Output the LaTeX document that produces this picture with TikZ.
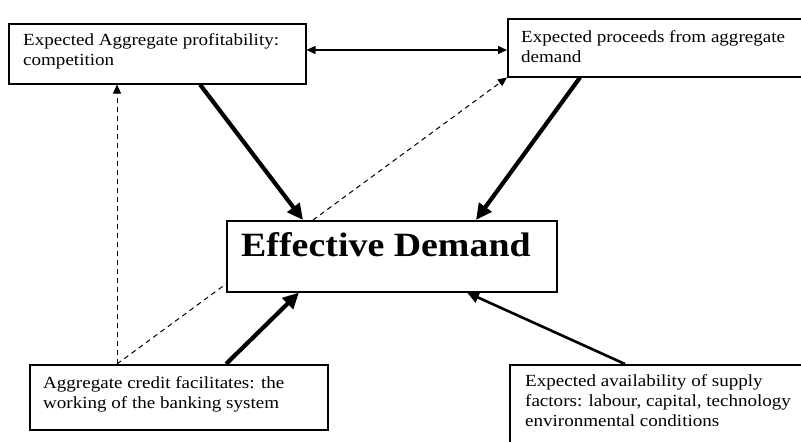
\documentclass[tikz,border=0pt]{standalone}
\usepackage{fontspec}
\setmainfont{Liberation Serif}
\newfontfamily\boxfont[FakeStretch=1.12]{Liberation Serif}
\newfontfamily\titlefont[FakeStretch=1.115]{Liberation Serif}
\usetikzlibrary{arrows.meta}
\begin{document}
\begin{tikzpicture}[x=1pt,y=-1pt,
  box/.style={draw=black,line width=1.5pt,fill=white,rectangle,inner sep=0pt,anchor=north west},
  txt/.style={anchor=base west,inner sep=0pt,font=\boxfont\fontsize{17}{20}\selectfont},
  heavy/.style={line width=4.2pt,-{Triangle[length=16pt,width=15pt]}},
  medium/.style={line width=2.6pt,-{Triangle[length=12pt,width=11pt]}},
  twoway/.style={line width=1.2pt,{Triangle[length=9pt,width=8pt]}-{Triangle[length=9pt,width=8pt]}},
  dashlink/.style={line width=1pt,dash pattern=on 5pt off 4pt,-{Triangle[length=9pt,width=8pt]}}]
\useasboundingbox (0,0) rectangle (801,442);
\clip (0,0) rectangle (801,442);
\fill[white] (0,0) rectangle (801,442);

% boxes
\node[box,minimum width=297pt,minimum height=60pt] (A) at (8,23) {};
\node[box,minimum width=320pt,minimum height=58pt] (B) at (507,18) {};
\node[box,minimum width=298pt,minimum height=65pt] (C) at (29,364) {};
\node[box,minimum width=320pt,minimum height=100pt] (D) at (509,364) {};

% dashed links (drawn before the central box, which covers them)
\draw[dashlink] ([xshift=88pt]C.north west) -- ([xshift=109pt]A.south west);
\draw[dashlink] ([xshift=88pt]C.north west) -- (B.south west);

% central box
\node[box,minimum width=330pt,minimum height=71pt] (ED) at (226,220) {};

% box texts
\node[txt] (a1) at (23,45) {Expected Aggregate profitability:};
\node[txt] (a2) at (23,65) {competition};
\node[txt] (b1) at (521,42) {Expected proceeds from aggregate};
\node[txt] (b2) at (521,62) {demand};
\node[txt] (c1) at (43,388) {Aggregate credit facilitates: the};
\node[txt] (c2) at (43,408) {working of the banking system};
\node[txt] (d1) at (525,386) {Expected availability of supply};
\node[txt] (d2) at (525,406) {factors: labour, capital, technology};
\node[txt] (d3) at (525,426) {environmental conditions};
\node[anchor=base west,inner sep=0pt,font=\titlefont\fontsize{34}{40}\selectfont\bfseries] (edt) at (241,256) {Effective Demand};

% connectors
\draw[twoway] (A.east |- 0,50) -- (B.west |- 0,50);
\draw[heavy] ([xshift=192pt]A.south west) -- ([xshift=77pt]ED.north west);
\draw[heavy] ([xshift=73pt]B.south west) -- ([xshift=250pt]ED.north west);
\draw[heavy] ([xshift=197pt]C.north west) -- ([xshift=73pt]ED.south west);
\draw[medium] ([xshift=116pt]D.north west) -- ([xshift=241pt]ED.south west);
\end{tikzpicture}
\end{document}
